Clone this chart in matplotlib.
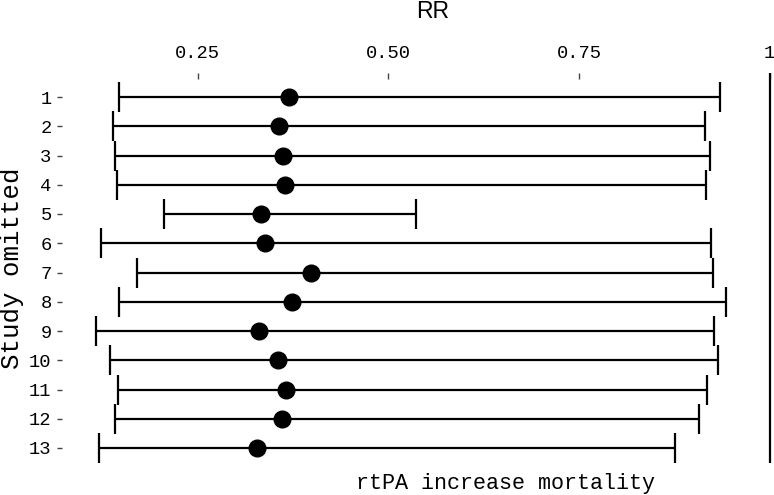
import numpy as np
import matplotlib
matplotlib.use("Agg")
import matplotlib.pyplot as plt

# leave-one-out results (RR with 95% CI)
studies = [str(i) for i in range(1, 14)]
rr = [0.370, 0.357, 0.362, 0.365, 0.333, 0.338, 0.399, 0.374, 0.330, 0.355, 0.366, 0.361, 0.328]
lower = [0.147, 0.139, 0.142, 0.144, 0.206, 0.123, 0.170, 0.147, 0.117, 0.135, 0.146, 0.142, 0.121]
upper = [0.935, 0.916, 0.922, 0.917, 0.536, 0.923, 0.926, 0.943, 0.927, 0.932, 0.918, 0.908, 0.876]
xticks = [0.25, 0.50, 0.75, 1.0]
xticklabels = ["0.25", "0.50", "0.75", "1"]

mono = ["Liberation Mono", "DejaVu Sans Mono"]

fig = plt.figure(figsize=(7.74, 4.95), dpi=100)
ax = fig.add_axes([62 / 774, 32 / 495, 712 / 774, 390 / 495])

y = np.arange(1, len(studies) + 1)
rr = np.array(rr)
lower = np.array(lower)
upper = np.array(upper)

ax.errorbar(rr, y, xerr=[rr - lower, upper - rr], fmt="o", color="black",
            ecolor="black", elinewidth=1.6, capsize=11, capthick=1.6,
            markersize=12, zorder=3)
ax.axvline(1.0, color="black", linewidth=1.6)

x0, scale = 7.1, 762.4
ax.set_xlim((62 - x0) / scale, (774 - x0) / scale)
ax.set_ylim(13 + 15 / 29.25, 1 - 24 / 29.25)

ax.xaxis.tick_top()
ax.set_xticks(xticks)
ax.set_xticklabels(xticklabels, family=mono, fontsize=13.5)
ax.set_yticks(y)
ax.set_yticklabels(studies, family=mono, fontsize=13.5)
ax.tick_params(axis="x", direction="in", length=4.5, width=1, color="#444444", pad=8)
ax.tick_params(axis="y", direction="out", length=3.5, width=1, color="#444444", pad=4)

for s in ax.spines.values():
    s.set_visible(False)

fig.text(433 / 774, 1 - 11.5 / 495, "RR", family=["Liberation Sans", "DejaVu Sans"],
         fontsize=16.5, ha="center", va="center")
fig.text(12 / 774, 1 - 268 / 495, "Study omitted", family=mono, fontsize=18.5,
         rotation=90, ha="center", va="center")
fig.text(506 / 774, 1 - 483 / 495, "rtPA increase mortality", family=mono,
         fontsize=15.7, ha="center", va="center")

fig.savefig("out.png", dpi=100)
